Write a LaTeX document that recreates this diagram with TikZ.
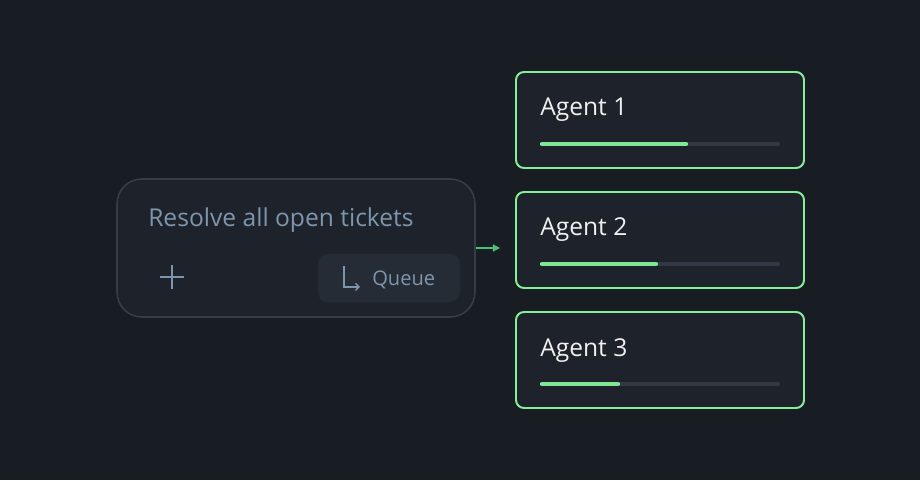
\documentclass[tikz,border=0pt]{standalone}
\usepackage{fontspec}
\setmainfont{Open Sans}
\usepackage{tikz}
\usetikzlibrary{positioning,arrows.meta}

\definecolor{bgdark}{HTML}{181C23}
\definecolor{panel}{HTML}{1E232B}
\definecolor{panelline}{HTML}{363D47}
\definecolor{mutedtext}{HTML}{7D95AD}
\definecolor{btnfill}{HTML}{262C36}
\definecolor{agentline}{HTML}{86EE96}
\definecolor{track}{HTML}{323944}
\definecolor{barfill}{HTML}{7EE895}
\definecolor{arrowgreen}{HTML}{4FBF78}

\begin{document}
\begin{tikzpicture}[every node/.style={inner sep=0pt},
  agentbox/.style={draw=agentline, line width=1.4pt, fill=panel, rectangle, rounded corners=0.2cm, minimum width=7.2cm, minimum height=2.4cm},
  agentlabel/.style={anchor=base west, text=white!94!black, font=\fontsize{17.5}{20}\selectfont},
  bartrack/.style={track, line width=3pt, line cap=round},
  barprogress/.style={barfill, line width=3pt, line cap=round}]
% Fundo
\fill[bgdark] (0,0) rectangle (23,12);
\useasboundingbox (0,0) rectangle (23,12);

% Caixa de entrada
\node[draw=panelline, line width=1.1pt, fill=panel, rectangle, rounded corners=0.62cm, minimum width=8.95cm, minimum height=3.45cm] (prompt) at (7.4,5.8) {};
\node[anchor=base west, text=mutedtext, font=\fontsize{17.5}{20}\selectfont] (task) at (3.7,6.35) {Resolve all open tickets};
\node[fill=btnfill, rectangle, rounded corners=0.25cm, minimum width=3.55cm, minimum height=1.2cm] (queue) at (9.725,5.05) {};
\node[anchor=base west, text=mutedtext, font=\fontsize{14.3}{16}\selectfont] (queuetxt) at (9.3,4.86) {Queue};

% Icones
\draw[mutedtext, line width=1pt] (4.0,5.075) -- (4.6,5.075) (4.3,4.775) -- (4.3,5.375);
\draw[mutedtext, line width=1pt, -{Straight Barb[length=2.5pt,width=5pt]}] (8.6,5.35) -- (8.6,4.83) -- (9.0,4.83);

% Agentes
\node[agentbox] (agent1) at (16.5,9.0) {};
\node[agentbox] (agent2) at (16.5,6.0) {};
\node[agentbox] (agent3) at (16.5,3.0) {};
\node[agentlabel] (lab1) at (13.5,9.1) {Agent 1};
\node[agentlabel] (lab2) at (13.5,6.1) {Agent 2};
\node[agentlabel] (lab3) at (13.5,3.1) {Agent 3};

% Barras
\draw[bartrack] (13.55,8.4) -- (19.45,8.4);
\draw[bartrack] (13.55,5.4) -- (19.45,5.4);
\draw[bartrack] (13.55,2.4) -- (19.45,2.4);
\draw[barprogress] (13.55,8.4) -- (17.15,8.4);
\draw[barprogress] (13.55,5.4) -- (16.4,5.4);
\draw[barprogress] (13.55,2.4) -- (15.45,2.4);

% Seta
\coordinate (handoff) at (12.5,5.8);
\draw[arrowgreen, line width=0.8pt, -{Triangle[length=5pt,width=5pt]}] (prompt.east) -- (handoff);
\end{tikzpicture}
\end{document}
